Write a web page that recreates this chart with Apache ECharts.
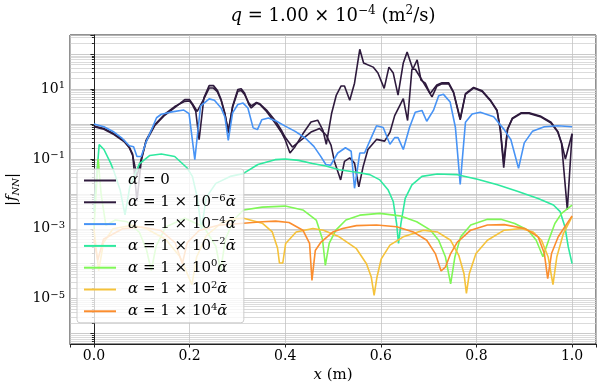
<!DOCTYPE html>
<html>
<head>
<meta charset="utf-8">
<script src="https://cdn.jsdelivr.net/npm/echarts@6/dist/echarts.min.js"></script>
<style>
  html, body { margin: 0; padding: 0; background: #fff; }
  #chart { width: 598px; height: 392px; }
</style>
</head>
<body>
<div id="chart"></div>
<script>
  // |f_NN| as [x (m), log10 |f_NN|]
  const alpha0 = [[0.000,-0.06],[0.021,-0.13],[0.042,-0.28],[0.063,-0.47],[0.074,-0.66],[0.081,-0.86],[0.090,-2.20],[0.099,-1.05],[0.109,-0.47],[0.127,-0.02],[0.148,0.28],[0.169,0.50],[0.190,0.65],[0.200,0.66],[0.206,0.55],[0.213,0.36],[0.220,-0.45],[0.230,0.75],[0.241,1.10],[0.250,1.10],[0.258,0.97],[0.266,0.70],[0.274,0.30],[0.281,-0.26],[0.290,0.51],[0.301,0.99],[0.308,1.01],[0.315,0.89],[0.324,0.56],[0.329,0.46],[0.340,0.60],[0.347,0.56],[0.361,0.36],[0.379,0.03],[0.393,-0.26],[0.400,-0.45],[0.410,-0.83],[0.421,-0.64],[0.437,-0.28],[0.454,0.06],[0.468,0.11],[0.479,-0.18],[0.486,-0.58],[0.497,0.30],[0.507,0.83],[0.517,1.09],[0.524,1.09],[0.535,0.68],[0.545,1.17],[0.556,2.14],[0.564,1.75],[0.584,1.63],[0.594,1.46],[0.607,1.02],[0.617,1.63],[0.626,1.46],[0.636,0.83],[0.647,1.75],[0.655,2.06],[0.667,1.57],[0.676,1.84],[0.684,1.26],[0.693,1.17],[0.703,0.87],[0.717,1.12],[0.728,1.18],[0.742,1.18],[0.752,0.92],[0.766,0.15],[0.777,0.87],[0.794,1.05],[0.812,0.95],[0.829,0.69],[0.843,0.40],[0.850,-0.18],[0.857,-1.25],[0.865,-0.16],[0.875,0.17],[0.893,0.32],[0.910,0.32],[0.935,0.22],[0.956,0.05],[0.970,-0.21],[0.978,-0.54],[0.986,-1.00],[1.000,-0.28]];
  const alpha1e_6 = [[0.000,-0.08],[0.021,-0.15],[0.042,-0.30],[0.063,-0.50],[0.074,-0.68],[0.081,-0.90],[0.090,-1.50],[0.099,-1.00],[0.109,-0.50],[0.127,-0.05],[0.148,0.25],[0.169,0.47],[0.190,0.70],[0.200,0.70],[0.206,0.58],[0.216,0.36],[0.230,0.72],[0.241,1.03],[0.250,1.03],[0.258,0.93],[0.266,0.68],[0.274,0.28],[0.281,-0.20],[0.290,0.48],[0.301,0.94],[0.308,0.96],[0.315,0.85],[0.324,0.60],[0.329,0.52],[0.340,0.62],[0.347,0.58],[0.361,0.40],[0.379,0.10],[0.393,-0.20],[0.400,-0.38],[0.415,-0.66],[0.437,-0.42],[0.454,-0.23],[0.472,-0.13],[0.486,-0.32],[0.496,-0.61],[0.503,-1.07],[0.516,-1.60],[0.524,-1.07],[0.535,-0.97],[0.545,-1.12],[0.554,-1.80],[0.563,-1.22],[0.573,-0.73],[0.591,-0.44],[0.608,-0.49],[0.619,-0.24],[0.629,0.24],[0.647,0.73],[0.656,0.10],[0.665,1.57],[0.672,1.57],[0.686,1.26],[0.707,0.78],[0.717,1.08],[0.728,1.15],[0.742,1.15],[0.752,0.90],[0.766,0.12],[0.777,0.85],[0.794,1.03],[0.812,0.93],[0.829,0.67],[0.843,0.38],[0.850,-0.15],[0.857,-1.10],[0.865,-0.14],[0.875,0.15],[0.893,0.30],[0.910,0.30],[0.935,0.20],[0.956,0.03],[0.970,-0.23],[0.978,-0.56],[0.990,-2.45],[1.000,-0.28]];
  const alpha1e_4 = [[0.000,0.00],[0.021,-0.08],[0.042,-0.23],[0.060,-0.42],[0.074,-0.62],[0.083,-0.65],[0.090,-0.93],[0.099,-0.93],[0.109,-0.52],[0.123,-0.08],[0.131,0.18],[0.141,0.28],[0.160,0.34],[0.188,0.40],[0.199,0.30],[0.211,-1.02],[0.223,0.51],[0.241,0.72],[0.252,0.68],[0.266,0.46],[0.274,0.20],[0.281,-0.47],[0.290,0.32],[0.301,0.56],[0.312,0.60],[0.322,0.46],[0.333,-0.11],[0.342,-0.16],[0.351,0.12],[0.365,0.17],[0.382,0.08],[0.400,-0.06],[0.421,-0.21],[0.442,-0.40],[0.460,-0.64],[0.474,-0.92],[0.485,-1.16],[0.495,-1.18],[0.510,-0.83],[0.526,-0.68],[0.538,-0.78],[0.545,-1.84],[0.556,-0.83],[0.566,-0.83],[0.580,-0.39],[0.591,-0.05],[0.605,-0.10],[0.619,-0.58],[0.629,-0.39],[0.636,-0.39],[0.647,-0.73],[0.660,-0.10],[0.672,0.34],[0.686,0.39],[0.696,0.08],[0.710,0.39],[0.721,0.81],[0.731,0.85],[0.745,0.63],[0.756,-0.10],[0.766,-1.73],[0.777,0.05],[0.791,0.29],[0.808,0.34],[0.836,0.21],[0.858,-0.16],[0.872,-0.45],[0.888,-1.27],[0.900,-0.54],[0.917,-0.21],[0.942,-0.08],[0.970,-0.05],[1.000,-0.08]];
  const alpha1e_2 = [[0.000,-2.50],[0.011,-0.59],[0.021,-0.73],[0.035,-1.12],[0.042,-1.36],[0.055,-1.90],[0.065,-2.60],[0.075,-1.80],[0.095,-1.14],[0.117,-0.90],[0.141,-0.86],[0.169,-0.93],[0.195,-1.26],[0.206,-1.50],[0.216,-2.10],[0.225,-3.00],[0.235,-2.10],[0.255,-1.70],[0.285,-1.50],[0.312,-1.42],[0.343,-1.16],[0.379,-1.02],[0.400,-1.00],[0.428,-1.04],[0.457,-1.13],[0.485,-1.20],[0.513,-1.31],[0.549,-1.38],[0.577,-1.45],[0.598,-1.60],[0.615,-1.88],[0.626,-2.22],[0.633,-2.85],[0.637,-3.42],[0.642,-2.85],[0.651,-2.13],[0.665,-1.74],[0.686,-1.50],[0.718,-1.43],[0.760,-1.45],[0.802,-1.58],[0.844,-1.74],[0.887,-1.93],[0.929,-2.13],[0.961,-2.32],[0.975,-2.51],[0.985,-2.94],[0.992,-3.52],[1.000,-4.00]];
  const alpha1e0 = [[0.000,-3.00],[0.009,-1.00],[0.015,-2.00],[0.025,-2.90],[0.045,-2.75],[0.070,-2.80],[0.095,-3.10],[0.110,-3.60],[0.120,-4.20],[0.130,-3.50],[0.150,-2.95],[0.190,-2.70],[0.230,-2.95],[0.255,-3.50],[0.265,-4.20],[0.275,-3.30],[0.292,-2.75],[0.313,-2.46],[0.352,-2.38],[0.400,-2.35],[0.437,-2.46],[0.465,-2.75],[0.478,-3.30],[0.484,-4.05],[0.492,-3.42],[0.506,-3.04],[0.527,-2.75],[0.556,-2.61],[0.598,-2.56],[0.640,-2.63],[0.675,-2.80],[0.704,-3.04],[0.721,-3.33],[0.735,-3.80],[0.746,-4.58],[0.755,-3.80],[0.767,-3.23],[0.788,-2.89],[0.823,-2.73],[0.851,-2.73],[0.880,-2.85],[0.908,-3.04],[0.925,-3.33],[0.939,-3.80],[0.951,-3.33],[0.964,-2.85],[0.978,-2.56],[1.000,-2.32]];
  const alpha1e2 = [[0.000,-3.00],[0.010,-4.20],[0.020,-3.40],[0.040,-3.00],[0.080,-2.90],[0.110,-3.00],[0.150,-3.30],[0.180,-3.80],[0.205,-4.60],[0.215,-3.80],[0.235,-3.20],[0.265,-2.85],[0.290,-2.72],[0.313,-2.70],[0.352,-2.84],[0.373,-3.09],[0.384,-3.55],[0.388,-3.98],[0.395,-3.98],[0.401,-3.42],[0.423,-3.09],[0.458,-2.99],[0.480,-3.04],[0.513,-3.23],[0.549,-3.57],[0.570,-4.00],[0.580,-4.38],[0.586,-4.91],[0.592,-4.38],[0.601,-3.86],[0.619,-3.47],[0.647,-3.23],[0.689,-3.04],[0.718,-3.09],[0.746,-3.33],[0.763,-3.76],[0.774,-4.29],[0.779,-4.85],[0.785,-4.29],[0.799,-3.71],[0.823,-3.33],[0.858,-3.04],[0.894,-2.99],[0.918,-3.09],[0.936,-3.33],[0.950,-3.81],[0.960,-4.60],[0.968,-3.81],[0.982,-3.13],[1.000,-2.65]];
  const alpha1e4 = [[0.000,-3.30],[0.008,-3.90],[0.020,-3.30],[0.060,-3.00],[0.100,-2.95],[0.140,-3.05],[0.170,-3.40],[0.185,-4.00],[0.195,-3.40],[0.220,-3.05],[0.260,-2.90],[0.313,-2.84],[0.352,-2.80],[0.380,-2.78],[0.408,-2.82],[0.437,-3.04],[0.451,-3.42],[0.456,-4.48],[0.463,-3.62],[0.475,-3.38],[0.500,-3.09],[0.520,-2.99],[0.549,-2.91],[0.591,-2.89],[0.633,-2.94],[0.668,-3.09],[0.696,-3.33],[0.714,-3.71],[0.726,-4.21],[0.735,-4.10],[0.746,-3.71],[0.760,-3.38],[0.788,-3.04],[0.823,-2.89],[0.858,-2.88],[0.901,-2.99],[0.929,-3.23],[0.942,-3.71],[0.949,-4.43],[0.957,-3.71],[0.971,-3.23],[1.000,-2.63]];

  // legend: alpha exponent for each curve (null = alpha 0)
  const alphaExps = [null, -6, -4, -2, 0, 2, 4];
  const curves = [alpha0, alpha1e_6, alpha1e_4, alpha1e_2, alpha1e0, alpha1e2, alpha1e4];
  const colors = ['#2e1a3d', '#2e1a3d', '#4793f5', '#2ee99f', '#7ff756', '#f5c23a', '#fb8d2e'];
  // labelled y ticks (powers of ten)
  const yTickExps = [-5, -3, -1, 1];

  const serif = 'DejaVu Serif';
  const minus = s => String(s).replace('-', '\u2212');

  const names = alphaExps.map(e => e === null ? 'α = 0' : 'α = 1 × 10^' + e + ' ᾱ');
  const richName = {};
  alphaExps.forEach((e, i) => {
    richName[names[i]] = e === null
      ? '{a|α}{n| = 0}'
      : '{a|α}{n| = 1 × 10}{s|' + minus(e) + '}{a|ᾱ}';
  });

  const series = curves.map((pts, i) => ({
    name: names[i],
    type: 'line',
    data: pts.map(p => [p[0], Math.pow(10, p[1])]),
    symbol: 'none',
    smooth: false,
    lineStyle: { color: colors[i], width: 1.6 },
    itemStyle: { color: colors[i] },
    emphasis: { disabled: true }
  }));

  const chart = echarts.init(document.getElementById('chart'));
  chart.setOption({
    animation: false,
    title: {
      text: '{ti|q}{t| = 1.00 × 10}{ts|\u22124}{t| (m}{ts|2}{t|/s)}',
      left: 333,
      top: 5,
      padding: 0,
      textAlign: 'center',
      textStyle: {
        fontWeight: 'normal',
        rich: {
          t: { fontFamily: serif, fontSize: 18, lineHeight: 22, fontWeight: 'normal', color: '#000' },
          ti: { fontFamily: serif, fontSize: 18, lineHeight: 22, fontWeight: 'normal', fontStyle: 'italic', color: '#000' },
          ts: { fontFamily: serif, fontSize: 12, lineHeight: 12, fontWeight: 'normal', verticalAlign: 'top', color: '#000' }
        }
      }
    },
    grid: {
      left: 70, right: 2, top: 35, bottom: 48,
      outerBoundsMode: 'none',
      show: true, borderColor: '#222', borderWidth: 1, backgroundColor: 'transparent'
    },
    legend: {
      data: names,
      left: 77,
      top: 169,
      orient: 'vertical',
      icon: 'rect',
      itemWidth: 32,
      itemHeight: 2,
      itemGap: 5.3,
      padding: [4, 8, 4, 7],
      backgroundColor: 'rgba(255,255,255,0.8)',
      borderColor: '#cccccc',
      borderWidth: 1,
      borderRadius: 3,
      selectedMode: false,
      formatter: name => richName[name],
      textStyle: {
        padding: [0, 0, 0, 7],
        rich: {
          a: { fontFamily: serif, fontSize: 15, lineHeight: 18, fontStyle: 'italic', color: '#000' },
          n: { fontFamily: serif, fontSize: 15, lineHeight: 18, color: '#000' },
          s: { fontFamily: serif, fontSize: 10, lineHeight: 10, verticalAlign: 'top', color: '#000' }
        }
      }
    },
    xAxis: {
      type: 'value',
      min: -0.05,
      max: 1.05,
      name: '{i|x}{n| (m)}',
      nameLocation: 'middle',
      nameGap: 22,
      nameTextStyle: {
        rich: {
          i: { fontFamily: serif, fontSize: 15, lineHeight: 18, fontStyle: 'italic', color: '#000' },
          n: { fontFamily: serif, fontSize: 15, lineHeight: 18, color: '#000' }
        }
      },
      axisLine: { show: true, lineStyle: { color: '#222', width: 1 } },
      axisTick: { show: true, length: 3.5, lineStyle: { color: '#222' } },
      axisLabel: {
        fontFamily: serif, fontSize: 14, color: '#000', margin: 5,
        formatter: v => Math.abs(v * 5 - Math.round(v * 5)) > 1e-6 ? '' : v.toFixed(1)
      },
      splitLine: { show: true, lineStyle: { color: '#c4c4c4', width: 0.8 } }
    },
    yAxis: {
      type: 'log',
      logBase: 10,
      min: Math.pow(10, -6.3),
      max: Math.pow(10, 2.55),
      name: '{n||}{i|f}{sub|NN}{n||}',
      nameLocation: 'middle',
      nameRotate: 90,
      nameGap: 44,
      nameTextStyle: {
        rich: {
          i: { fontFamily: serif, fontSize: 15, lineHeight: 18, fontStyle: 'italic', color: '#000' },
          n: { fontFamily: serif, fontSize: 15, lineHeight: 18, color: '#000' },
          sub: { fontFamily: serif, fontSize: 10, lineHeight: 10, fontStyle: 'italic', verticalAlign: 'bottom', color: '#000' }
        }
      },
      axisLine: { show: true, lineStyle: { color: '#222', width: 1 } },
      axisTick: { show: true, length: 3.5, lineStyle: { color: '#222' } },
      minorTick: { show: true, splitNumber: 9, length: 2, lineStyle: { color: '#222' } },
      axisLabel: {
        margin: 5,
        formatter: v => {
          const e = Math.log10(v);
          const r = Math.round(e);
          if (Math.abs(e - r) > 1e-6 || yTickExps.indexOf(r) < 0) return '';
          return '{b|10}{s|' + minus(r) + '}';
        },
        rich: {
          b: { fontFamily: serif, fontSize: 14, lineHeight: 17, color: '#000' },
          s: { fontFamily: serif, fontSize: 10, lineHeight: 10, verticalAlign: 'top', color: '#000' }
        }
      },
      splitLine: { show: true, lineStyle: { color: '#bdbdbd', width: 0.8 } },
      minorSplitLine: { show: true, lineStyle: { color: '#d2d2d2', width: 0.8 } }
    },
    series: series
  });
</script>
</body>
</html>
